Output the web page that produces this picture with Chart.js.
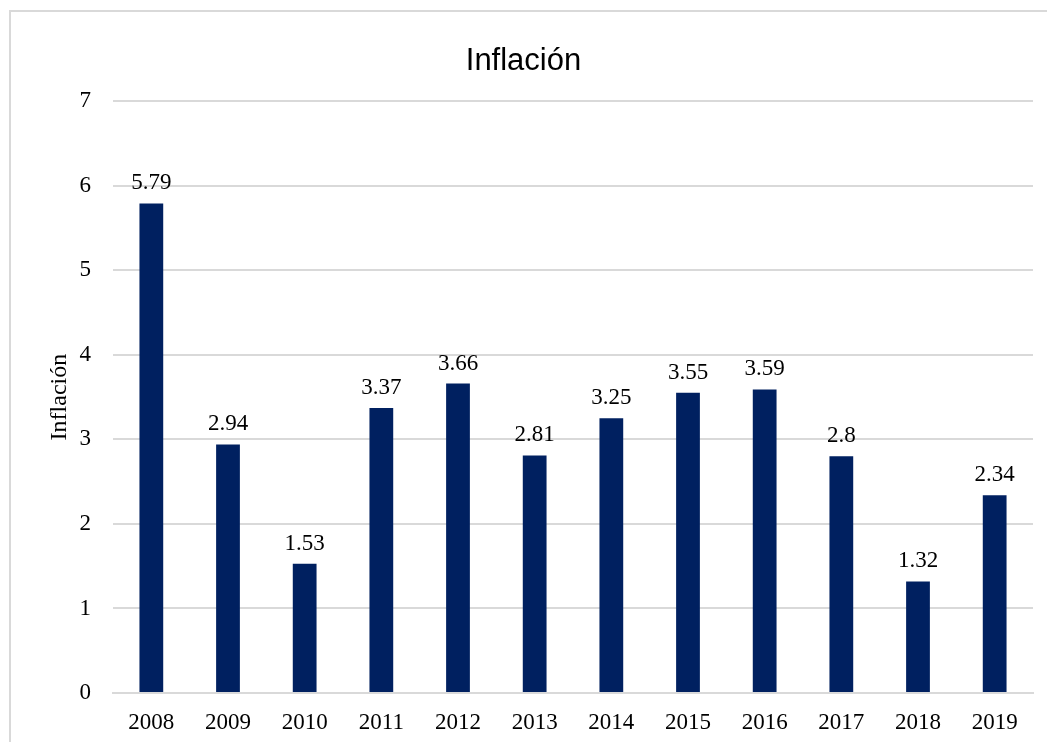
<!DOCTYPE html>
<html>
<head>
<meta charset="utf-8">
<script src="https://cdn.jsdelivr.net/npm/chart.js@4.4.0/dist/chart.umd.min.js"></script>
<style>
  html, body { margin: 0; padding: 0; background: #fff; overflow: hidden; }
  .frame { position: absolute; left: 9px; top: 10px; width: 1100px; height: 800px;
           border-top: 2px solid #d9d9d9; border-left: 2px solid #d9d9d9; }
  .chart-container { position: absolute; left: 0; top: 0; width: 1047px; height: 742px; }
</style>
</head>
<body>
<div class="frame"></div>
<div class="chart-container"><canvas id="inflationChart"></canvas></div>
<script>
const years = ['2008', '2009', '2010', '2011', '2012', '2013', '2014', '2015', '2016', '2017', '2018', '2019'];
const inflation = [5.79, 2.94, 1.53, 3.37, 3.66, 2.81, 3.25, 3.55, 3.59, 2.8, 1.32, 2.34];
const yTicks = [0, 1, 2, 3, 4, 5, 6, 7];

const serif = '"Liberation Serif", "Times New Roman", serif';
const barColor = '#002060';
const gridColor = '#d9d9d9';

// draw the value above each bar
const valueLabels = {
  id: 'valueLabels',
  afterDatasetsDraw(chart) {
    const ctx = chart.ctx;
    const meta = chart.getDatasetMeta(0);
    ctx.save();
    ctx.font = '23px ' + serif;
    ctx.fillStyle = '#000';
    ctx.textAlign = 'center';
    ctx.textBaseline = 'alphabetic';
    meta.data.forEach((bar, i) => {
      ctx.fillText(String(inflation[i]), bar.x, bar.y - 14);
    });
    ctx.restore();
  }
};

new Chart(document.getElementById('inflationChart').getContext('2d'), {
  type: 'bar',
  data: {
    labels: years,
    datasets: [{
      label: 'Inflación',
      data: inflation,
      backgroundColor: barColor,
      borderWidth: 0,
      barPercentage: 0.31,
      categoryPercentage: 1
    }]
  },
  options: {
    responsive: true,
    maintainAspectRatio: false,
    animation: false,
    layout: { padding: { left: 14, right: 14, top: 0, bottom: 0 } },
    plugins: {
      legend: { display: false },
      tooltip: { enabled: false },
      title: {
        display: true,
        text: 'Inflación',
        color: '#000',
        font: { family: '"Liberation Sans", Arial, sans-serif', size: 31, weight: 'normal' },
        padding: { top: 43, bottom: 21 }
      }
    },
    scales: {
      x: {
        grid: { display: false },
        border: { display: true, color: gridColor, width: 2 },
        ticks: { color: '#000', font: { family: serif, size: 23 }, padding: 8 },
        afterFit(scale) { scale.height = 49; }
      },
      y: {
        min: 0,
        max: 7,
        afterBuildTicks(scale) { scale.ticks = yTicks.map(v => ({ value: v })); },
        grid: { color: gridColor, lineWidth: 2, drawTicks: false },
        border: { display: false },
        ticks: { color: '#000', font: { family: serif, size: 23 }, padding: 22 },
        title: {
          display: true,
          text: 'Inflación',
          color: '#000',
          font: { family: serif, size: 24 },
          padding: { top: 31, bottom: 0 }
        },
        afterFit(scale) { scale.width = 99; }
      }
    }
  },
  plugins: [valueLabels]
});
</script>
</body>
</html>
